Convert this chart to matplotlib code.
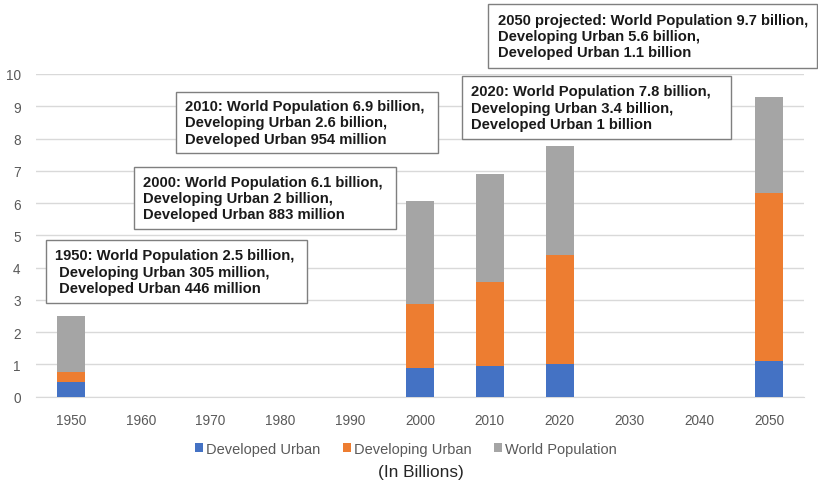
import matplotlib
matplotlib.use("Agg")
import matplotlib.pyplot as plt
from matplotlib.patches import Rectangle
import numpy as np

plt.rcParams['font.family'] = ['Liberation Sans', 'DejaVu Sans']

years = ['1950', '1960', '1970', '1980', '1990', '2000', '2010', '2020', '2030', '2040', '2050']
developed_urban = [0.446, 0, 0, 0, 0, 0.883, 0.954, 1.0, 0, 0, 1.1]
developing_urban = [0.305, 0, 0, 0, 0, 2.0, 2.6, 3.4, 0, 0, 5.2]
world_population = [1.74, 0, 0, 0, 0, 3.19, 3.34, 3.38, 0, 0, 2.99]
series_names = ['Developed Urban', 'Developing Urban', 'World Population']
colors = ['#4472C4', '#ED7D31', '#A5A5A5']

notes = [
    "1950: World Population 2.5 billion,\n Developing Urban 305 million,\n Developed Urban 446 million",
    "2000: World Population 6.1 billion,\nDeveloping Urban 2 billion,\nDeveloped Urban 883 million",
    "2010: World Population 6.9 billion,\nDeveloping Urban 2.6 billion,\nDeveloped Urban 954 million",
    "2020: World Population 7.8 billion,\nDeveloping Urban 3.4 billion,\nDeveloped Urban 1 billion",
    "2050 projected: World Population 9.7 billion,\nDeveloping Urban 5.6 billion,\nDeveloped Urban 1.1 billion",
]
# note box layout in pixels: (x0, y0, x1, y1, text_x)
note_boxes = [
    (45.7, 241, 306.7, 304, 54.7),
    (133.7, 167.7, 396, 230, 143.3),
    (176, 92.7, 438.3, 154.3, 185.3),
    (461.7, 77.3, 731, 140, 470.7),
    (488.3, 5, 816.5, 69, 498),
]

W, H = 818, 485
fig = plt.figure(figsize=(W / 100, H / 100), dpi=100)
ax = fig.add_axes([36 / W, 1 - 397.7 / H, (804 - 36) / W, (397.7 - 75) / H])

x = np.arange(len(years))
bottom = np.zeros(len(years))
for vals, name, c in zip([developed_urban, developing_urban, world_population], series_names, colors):
    v = np.array(vals, dtype=float)
    ax.bar(x, v, width=0.4, bottom=bottom, color=c, label=name, linewidth=0, zorder=3)
    bottom += v

ax.set_xlim(-0.5, len(years) - 0.5)
ax.set_ylim(0, 10)
ax.set_yticks(range(0, 11))
ax.set_xticks(x)
ax.set_xticklabels(years)
ax.yaxis.grid(True, color='#D9D9D9', linewidth=1, zorder=0)
ax.set_axisbelow(True)
for s in ['top', 'right', 'left']:
    ax.spines[s].set_visible(False)
ax.spines['bottom'].set_color('#D9D9D9')
ax.tick_params(axis='both', length=0, labelcolor='#595959', labelsize=9.8)
ax.tick_params(axis='y', pad=11)
ax.tick_params(axis='x', pad=12)

leg = fig.legend(loc='center', bbox_to_anchor=(406 / W, 1 - 450 / H), ncol=3, frameon=False,
                 fontsize=10.5, handlelength=0.55, handleheight=0.55, handletextpad=0.25,
                 columnspacing=1.5, borderaxespad=0)
for t in leg.get_texts():
    t.set_color('#595959')

fig.text(420.5 / W, 1 - 473 / H, '(In Billions)', ha='center', va='center', fontsize=12.4, color='#262626')

for (x0, y0, x1, y1, tx), txt in zip(note_boxes, notes):
    rect = Rectangle((x0 / W, 1 - y1 / H), (x1 - x0) / W, (y1 - y0) / H, transform=fig.transFigure,
                     facecolor='white', edgecolor='#7F7F7F', linewidth=1.0, zorder=5)
    fig.patches.append(rect)
    fig.text(tx / W, 1 - ((y0 + y1) / 2) / H, txt, ha='left', va='center', fontsize=10.6,
             fontweight='bold', color='#1A1A1A', linespacing=1.2, zorder=6)

fig.savefig('out.png', dpi=100)
